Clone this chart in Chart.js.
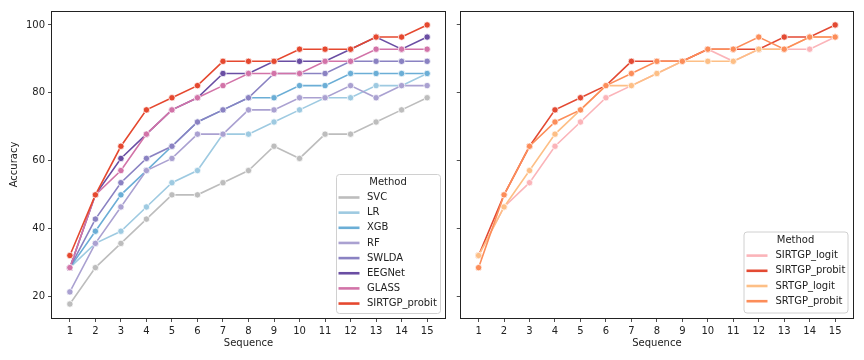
<!DOCTYPE html>
<html>
<head>
<meta charset="utf-8">
<script src="https://cdn.jsdelivr.net/npm/chart.js@4.4.0/dist/chart.umd.min.js"></script>
<style>
  body { margin: 0; background: #fff; }
  #wrap { position: relative; width: 864px; height: 360px; }
  .panel { position: absolute; top: 0; height: 360px; }
</style>
</head>
<body>
<div id="wrap">
  <div class="panel" style="left:0;width:456px"><canvas id="left" width="456" height="360"></canvas></div>
  <div class="panel" style="left:456px;width:408px"><canvas id="right" width="408" height="360"></canvas></div>
</div>
<script>
// data (accuracy in %)
const sequences = [1, 2, 3, 4, 5, 6, 7, 8, 9, 10, 11, 12, 13, 14, 15];
const yTicks = [20, 40, 60, 80, 100];

const leftMethods = ['SVC', 'LR', 'XGB', 'RF', 'SWLDA', 'EEGNet', 'GLASS', 'SIRTGP_probit'];
const svc    = [17.86, 28.57, 35.71, 42.86, 50, 50, 53.57, 57.14, 64.29, 60.71, 67.86, 67.86, 71.43, 75, 78.57];
const lr     = [28.57, 35.71, 39.29, 46.43, 53.57, 57.14, 67.86, 67.86, 71.43, 75, 78.57, 78.57, 82.14, 82.14, 85.71];
const xgb    = [28.57, 39.29, 50, 57.14, 64.29, 71.43, 75, 78.57, 78.57, 82.14, 82.14, 85.71, 85.71, 85.71, 85.71];
const rf     = [21.43, 35.71, 46.43, 57.14, 60.71, 67.86, 67.86, 75, 75, 78.57, 78.57, 82.14, 78.57, 82.14, 82.14];
const swlda  = [28.57, 42.86, 53.57, 60.71, 64.29, 71.43, 75, 78.57, 85.71, 85.71, 85.71, 89.29, 89.29, 89.29, 89.29];
const eegnet = [28.57, 50, 60.71, 67.86, 75, 78.57, 85.71, 85.71, 89.29, 89.29, 89.29, 92.86, 96.43, 92.86, 96.43];
const glass  = [28.57, 50, 57.14, 67.86, 75, 78.57, 82.14, 85.71, 85.71, 85.71, 89.29, 89.29, 92.86, 92.86, 92.86];
const sirtgpProbit = [32.14, 50, 64.29, 75, 78.57, 82.14, 89.29, 89.29, 89.29, 92.86, 92.86, 92.86, 96.43, 96.43, 100];

const rightMethods = ['SIRTGP_logit', 'SIRTGP_probit', 'SRTGP_logit', 'SRTGP_probit'];
const sirtgpLogit = [32.14, 46.43, 53.57, 64.29, 71.43, 78.57, 82.14, 85.71, 89.29, 92.86, 89.29, 92.86, 92.86, 92.86, 96.43];
const srtgpLogit  = [32.14, 46.43, 57.14, 67.86, 75, 82.14, 82.14, 85.71, 89.29, 89.29, 89.29, 92.86, 92.86, 96.43, 96.43];
const srtgpProbit = [28.57, 50, 64.29, 71.43, 75, 82.14, 85.71, 89.29, 89.29, 92.86, 92.86, 96.43, 92.86, 96.43, 96.43];

const leftColors = ['#bdbdbd', '#9ecae1', '#6baed6', '#aaa1d1', '#8a82c2', '#6a4ea3', '#d273a8', '#e5482f'];
const rightColors = ['#fbb4b9', '#e34a33', '#fdbf86', '#fc8d59'];

const font = { family: 'DejaVu Sans', size: 10 };
const ink = '#222';

function makeSets(names, series, colors) {
  return names.map((name, i) => ({
    label: name,
    data: series[i].map((v, j) => ({ x: sequences[j], y: v })),
    borderColor: colors[i],
    backgroundColor: colors[i],
    pointBackgroundColor: colors[i],
    pointBorderColor: '#fff',
    pointBorderWidth: 0.75,
    pointRadius: 3.2,
    borderWidth: 1.6,
    order: names.length - i   // later series on top, like matplotlib
  }));
}

// axes frame + matplotlib-like legend box
const boxPlugin = {
  id: 'boxLegend',
  afterDraw(chart, args, o) {
    const ctx = chart.ctx;
    const a = chart.chartArea;
    ctx.save();
    ctx.strokeStyle = ink;
    ctx.lineWidth = 1;
    ctx.strokeRect(Math.round(a.left) - 0.5, Math.round(a.top) + 0.5, Math.round(a.right - a.left) + 1, Math.round(a.bottom - a.top));

    ctx.beginPath();
    ctx.roundRect(o.x + 0.5, o.y + 0.5, o.w, o.h, 3);
    ctx.fillStyle = 'rgba(255,255,255,0.85)';
    ctx.fill();
    ctx.strokeStyle = '#d0d0d0';
    ctx.lineWidth = 1;
    ctx.stroke();

    ctx.font = '10px "DejaVu Sans"';
    ctx.fillStyle = ink;
    ctx.textBaseline = 'middle';
    ctx.textAlign = 'center';
    ctx.fillText('Method', o.x + o.w / 2, o.titleY);
    ctx.textAlign = 'left';
    o.names.forEach((name, i) => {
      const y = o.firstY + i * o.step;
      ctx.strokeStyle = o.colors[i];
      ctx.lineWidth = 2.6;
      ctx.beginPath();
      ctx.moveTo(o.hx, y);
      ctx.lineTo(o.hx + 21, y);
      ctx.stroke();
      ctx.fillStyle = ink;
      ctx.fillText(name, o.tx, y);
    });
    ctx.restore();
  }
};

function makeChart(id, names, series, colors, showY, yWidth, legend) {
  return new Chart(document.getElementById(id), {
    type: 'line',
    data: { datasets: makeSets(names, series, colors) },
    plugins: [boxPlugin],
    options: {
      responsive: false,
      animation: false,
      layout: { padding: { left: 0, right: 11, top: 11, bottom: 0 } },
      plugins: {
        legend: { display: false },
        tooltip: { enabled: false },
        boxLegend: Object.assign({ names: names, colors: colors }, legend)
      },
      scales: {
        x: {
          type: 'linear', min: 0.3, max: 15.7,
          afterBuildTicks: s => { s.ticks = sequences.map(v => ({ value: v })); },
          afterFit: s => { s.height = 42; },
          ticks: { font, color: ink, padding: 3, maxRotation: 0, autoSkip: false, callback: v => String(v) },
          grid: { drawOnChartArea: false, tickLength: 4, color: ink, lineWidth: 0.8 },
          border: { display: false },
          title: { display: true, text: 'Sequence', font, color: ink, padding: { top: 0, bottom: 11 } }
        },
        y: {
          type: 'linear', min: 13.75, max: 104.1,
          afterBuildTicks: s => { s.ticks = yTicks.map(v => ({ value: v })); },
          afterFit: s => { s.width = yWidth; },
          ticks: { display: showY, font, color: ink, padding: 3, callback: v => String(v) },
          grid: { drawOnChartArea: false, tickLength: 4, color: ink, lineWidth: 0.8 },
          border: { display: false },
          title: { display: showY, text: 'Accuracy', font, color: ink, padding: { top: 8.5, bottom: 0 } }
        }
      }
    }
  });
}

makeChart('left', leftMethods, [svc, lr, xgb, rf, swlda, eegnet, glass, sirtgpProbit], leftColors, true, 52,
  { x: 336, y: 174, w: 104, h: 139, titleY: 182.5, firstY: 197.5, step: 15.15, hx: 338.5, tx: 367 });

makeChart('right', rightMethods, [sirtgpLogit, sirtgpProbit, srtgpLogit, srtgpProbit], rightColors, false, 4,
  { x: 287.5, y: 231.5, w: 104, h: 81, titleY: 240, firstY: 255.6, step: 15.2, hx: 290.5, tx: 319.5 });
</script>
</body>
</html>
